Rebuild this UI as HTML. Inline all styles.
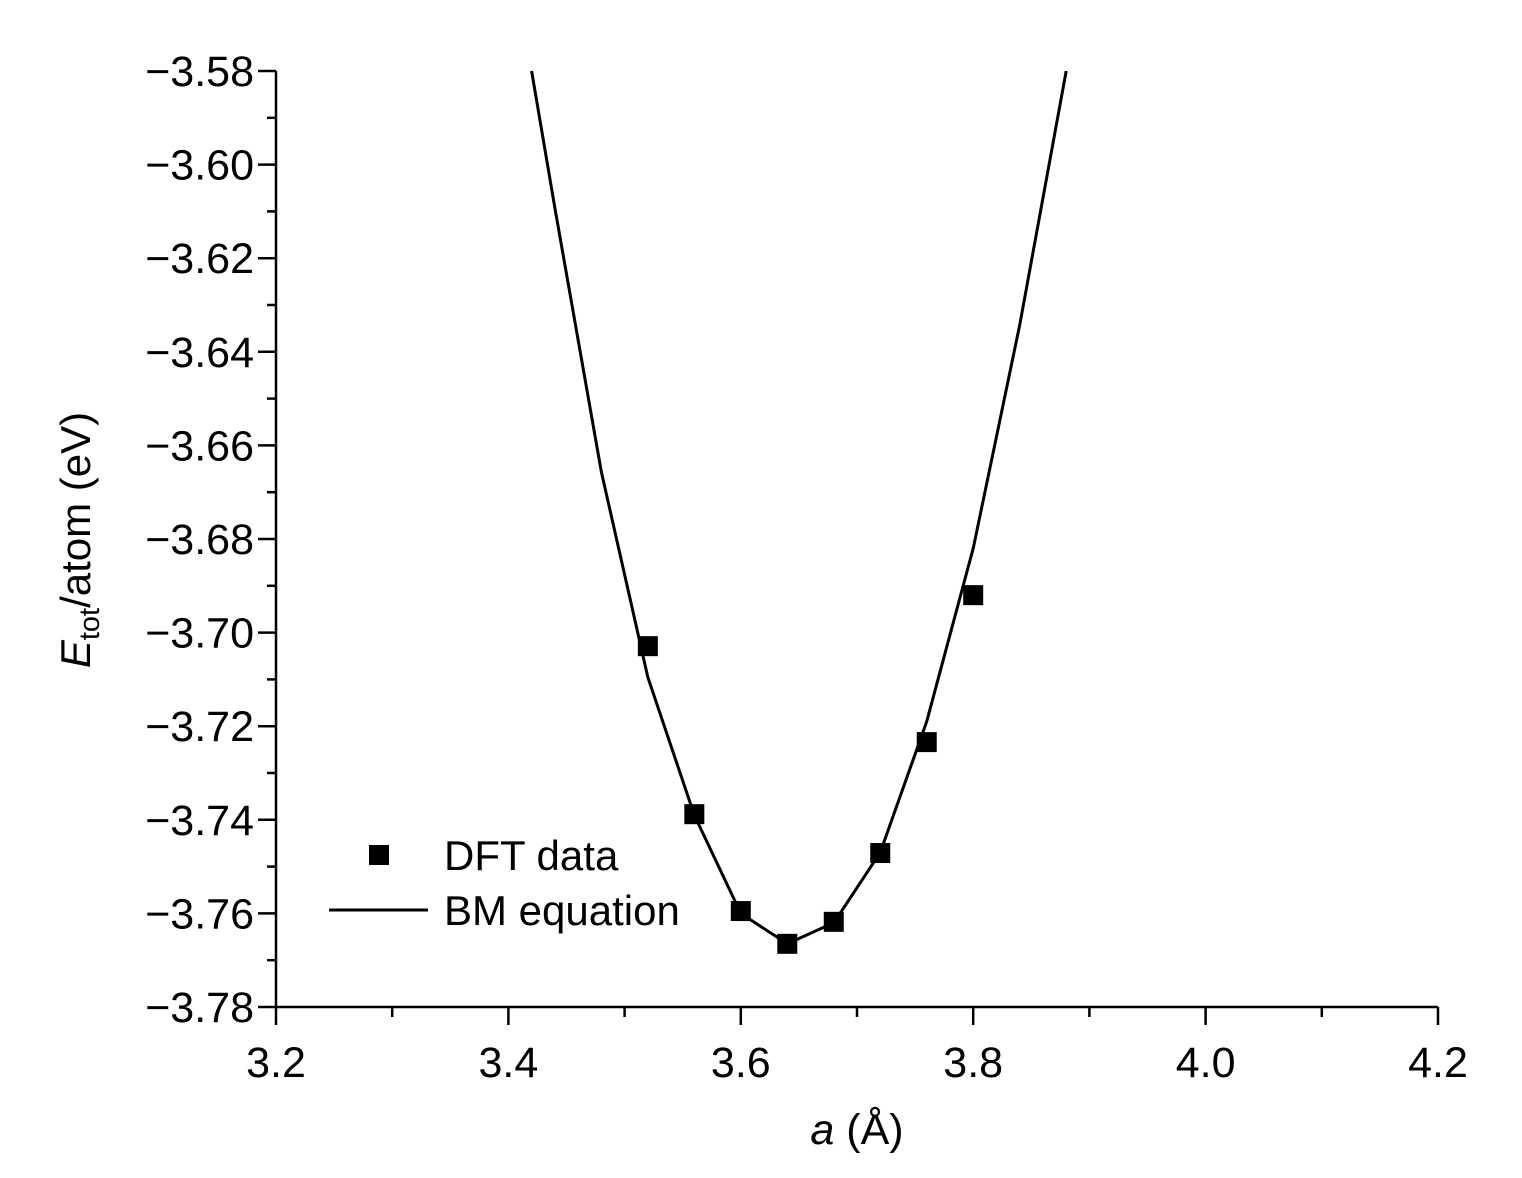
<!DOCTYPE html>
<html><head><meta charset="utf-8"><style>body{margin:0;background:#fff}svg{display:block;font-family:"Liberation Sans",Arial,sans-serif}</style></head>
<body>
<svg id="chart" width="1522" height="1178" viewBox="0 0 1522 1178">
<g id="axes"></g>
<g id="series"></g>
<text x="90" y="540" font-size="42" text-anchor="middle" transform="rotate(-90 90 540)"><tspan font-style="italic">E</tspan><tspan font-size="29" dy="9">tot</tspan><tspan dy="-9">/atom (eV)</tspan></text>
<text x="857" y="1144" font-size="43" text-anchor="middle"><tspan font-style="italic">a</tspan> (Å)</text>
<g>
<rect x="369" y="845" width="20" height="20" fill="#000"/>
<text x="444" y="870" font-size="42">DFT data</text>
<line x1="329" y1="910" x2="428" y2="910" stroke="#000" stroke-width="3"/>
<text x="444" y="925" font-size="42">BM equation</text>
</g>
</svg>
<script>
const xTicks=[3.2,3.4,3.6,3.8,4.0,4.2];
const xTickLabels=["3.2","3.4","3.6","3.8","4.0","4.2"];
const yTicks=[-3.58,-3.60,-3.62,-3.64,-3.66,-3.68,-3.70,-3.72,-3.74,-3.76,-3.78];
const yTickLabels=["\u22123.58","\u22123.60","\u22123.62","\u22123.64","\u22123.66","\u22123.68","\u22123.70","\u22123.72","\u22123.74","\u22123.76","\u22123.78"];
const dftA=[3.52,3.56,3.60,3.64,3.68,3.72,3.76,3.80];
const dftE=[-3.7029,-3.7388,-3.7595,-3.7665,-3.7618,-3.7471,-3.7234,-3.6920];
const bmA=[3.42,3.44,3.48,3.52,3.56,3.60,3.64,3.68,3.72,3.76,3.80,3.84,3.88];
const bmE=[-3.58,-3.6093,-3.6657,-3.7095,-3.739,-3.760,-3.7665,-3.762,-3.747,-3.719,-3.682,-3.6343,-3.58];
const X0=276,X1=1438,Y0=71,Y1=1007;
const xs=v=>X0+(v-3.2)/1.0*(X1-X0);
const ys=v=>Y0+(-3.58-v)/0.2*(Y1-Y0);
const NS="http://www.w3.org/2000/svg";
const axes=document.getElementById('axes'),ser=document.getElementById('series');
function mk(tag,attrs,parent){const e=document.createElementNS(NS,tag);for(const k in attrs)e.setAttribute(k,attrs[k]);parent.appendChild(e);return e;}
let l=mk('line',{x1:X0,y1:Y0,x2:X0,y2:Y1+1,stroke:'#000','stroke-width':2.5},axes);


l=mk('line',{x1:X0-1,y1:Y1,x2:X1,y2:Y1,stroke:'#000','stroke-width':2.5},axes);


for(let i=0;i<xTicks.length;i++){
  const x=xs(xTicks[i]);
  const t=mk('line',{x1:x,y1:Y1,x2:x,y2:Y1+18,stroke:'#000','stroke-width':2.5},axes);
  
  
  const tx=mk('text',{x:x,y:Y1+70,'font-size':43,'text-anchor':'middle'},axes);tx.textContent=xTickLabels[i];
  
  
  if(i<xTicks.length-1){const xm=xs(xTicks[i]+0.1);
    const m=mk('line',{x1:xm,y1:Y1,x2:xm,y2:Y1+10,stroke:'#000','stroke-width':2.5},axes);
    
    }
}
for(let i=0;i<yTicks.length;i++){
  const y=ys(yTicks[i]);
  const t=mk('line',{x1:X0-18,y1:y,x2:X0,y2:y,stroke:'#000','stroke-width':2.5},axes);
  
  
  const tx=mk('text',{x:X0-22,y:y+15,'font-size':43,'text-anchor':'end'},axes);tx.textContent=yTickLabels[i];
  
  
  if(i<yTicks.length-1){const ym=ys(yTicks[i]-0.01);
    const m=mk('line',{x1:X0-9,y1:ym,x2:X0,y2:ym,stroke:'#000','stroke-width':2.5},axes);
    
    }
}
const pts=bmA.map((a,i)=>xs(a).toFixed(1)+','+ys(bmE[i]).toFixed(1)).join(' ');
const pl=mk('polyline',{points:pts,fill:'none',stroke:'#000','stroke-width':3,'stroke-linejoin':'round'},ser);


for(let i=0;i<dftA.length;i++){
  const r=mk('rect',{x:xs(dftA[i])-10,y:ys(dftE[i])-10,width:20,height:20,fill:'#000'},ser);
  
  
}
</script>
</body></html>
